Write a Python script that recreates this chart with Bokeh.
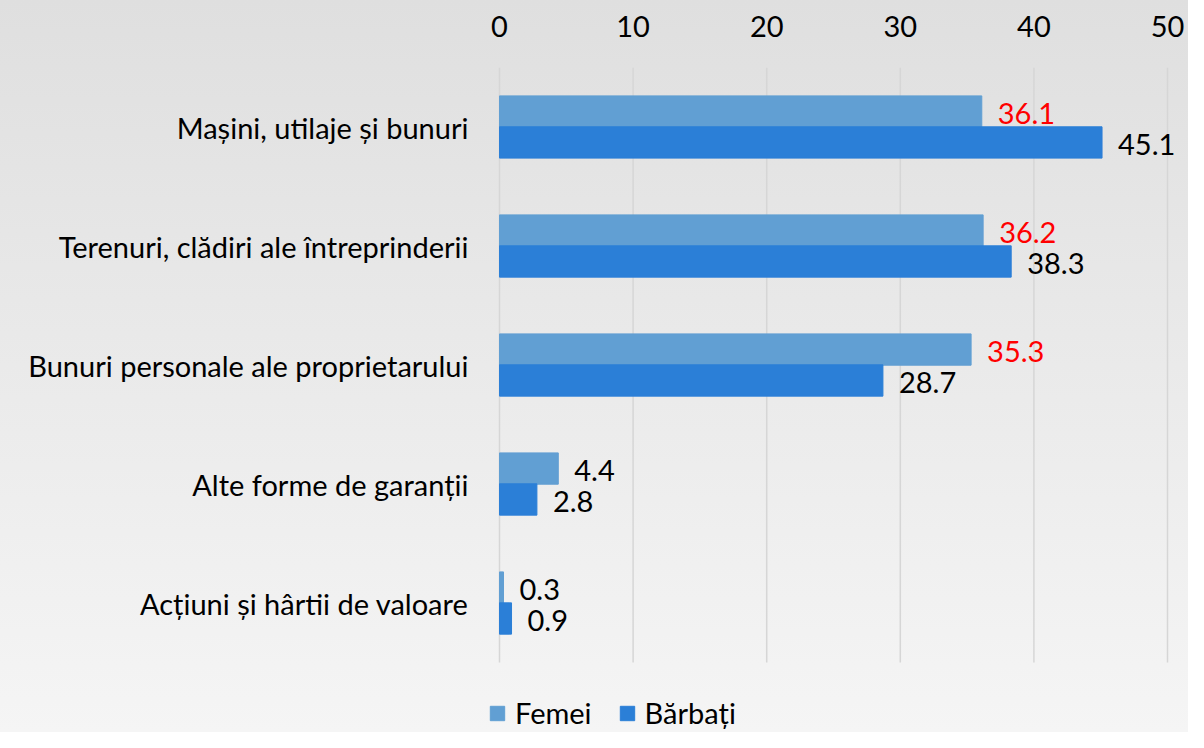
from bokeh.plotting import figure
from bokeh.models import ColumnDataSource, Range1d, FixedTicker, Legend, LegendItem
from bokeh.core.properties import value
from bokeh.embed import file_html
from bokeh.resources import INLINE

# ---- data ----
categories = [
    "Mașini, utilaje și bunuri",
    "Terenuri, clădiri ale întreprinderii",
    "Bunuri personale ale proprietarului",
    "Alte forme de garanții",
    "Acțiuni și hârtii de valoare",
]
femei = [36.1, 36.2, 35.3, 4.4, 0.3]
barbati = [45.1, 38.3, 28.7, 2.8, 0.9]
x_ticks = [0, 10, 20, 30, 40, 50]
series_names = ["Femei", "Bărbați"]

# ---- styles ----
FONT = "Lato"
FS = "29px"
C_FEMEI = "#619fd3"
C_BARBATI = "#2b7fd7"
GRID = "#d6d6d6"
femei_label_colors = ["#ff0000", "#ff0000", "#ff0000", "#000000", "#000000"]

n = len(categories)
centers = [n - 1 - i + 0.5 for i in range(n)]   # first category on top
OFF = 0.13
H = 0.263

src = ColumnDataSource(dict(
    yf=[c + OFF for c in centers],
    yb=[c - OFF for c in centers],
    femei=femei,
    barbati=barbati,
    femei_txt=[f"{v:.1f}" for v in femei],
    barbati_txt=[f"{v:.1f}" for v in barbati],
    fcol=femei_label_colors,
))

W, HT = 1188, 732
PX = 668 / 50.0            # pixels per unit on the value axis
LEFT_PAD, RIGHT_PAD = 12, 21
p = figure(
    width=W, height=HT,
    x_range=Range1d(-LEFT_PAD / PX, 50 + RIGHT_PAD / PX),
    y_range=Range1d(-0.588, n),
    x_axis_location="above",
    output_backend="svg", toolbar_location=None,
    min_border_left=499 - LEFT_PAD, min_border_right=0, min_border_top=67, min_border_bottom=0,
)
p.styles = {"background": "linear-gradient(to bottom, #dfdfdf 0%, #f5f5f5 100%)"}
p.border_fill_color = None
p.background_fill_color = None
p.outline_line_color = None
p.xgrid.grid_line_color = None
p.ygrid.grid_line_color = None

# vertical grid lines spanning only the category area
p.segment(x0=x_ticks, x1=x_ticks, y0=[0] * len(x_ticks), y1=[n] * len(x_ticks),
          line_color=GRID, line_width=1.5)

rf = p.hbar(y="yf", right="femei", left=0, height=H, source=src,
            fill_color=C_FEMEI, line_color=C_FEMEI)
rb = p.hbar(y="yb", right="barbati", left=0, height=H, source=src,
            fill_color=C_BARBATI, line_color=C_BARBATI)

p.text(x="femei", y="yf", text="femei_txt", source=src,
       text_color="fcol", text_font=value(FONT), text_font_size=FS,
       text_baseline="middle", text_align="left", x_offset=16, y_offset=2)
p.text(x="barbati", y="yb", text="barbati_txt", source=src,
       text_color="#000000", text_font=value(FONT), text_font_size=FS,
       text_baseline="middle", text_align="left", x_offset=16, y_offset=2)

# axes
p.xaxis.ticker = FixedTicker(ticks=x_ticks)
p.yaxis.ticker = FixedTicker(ticks=centers)
p.yaxis.major_label_overrides = {c: name for c, name in zip(centers, categories)}
for ax in (p.xaxis[0], p.yaxis[0]):
    ax.axis_line_color = None
    ax.major_tick_line_color = None
    ax.minor_tick_line_color = None
    ax.major_tick_in = 0
    ax.major_tick_out = 0
    ax.minor_tick_in = 0
    ax.minor_tick_out = 0
    ax.major_label_text_font = FONT
    ax.major_label_text_font_size = FS
    ax.major_label_text_color = "#000000"
p.xaxis.major_label_standoff = 31
p.yaxis.major_label_standoff = 31 - LEFT_PAD

legend = Legend(
    items=[LegendItem(label=series_names[0], renderers=[rf]),
           LegendItem(label=series_names[1], renderers=[rb])],
    orientation="horizontal",
    location=(1, 2),
    label_text_font=FONT, label_text_font_size=FS, label_text_color="#000000",
    glyph_width=18, glyph_height=18, label_standoff=9, spacing=26,
    padding=0, margin=0, border_line_color=None, background_fill_alpha=0,
)
p.add_layout(legend, "center")

open("out.html", "w").write(file_html(p, INLINE))
